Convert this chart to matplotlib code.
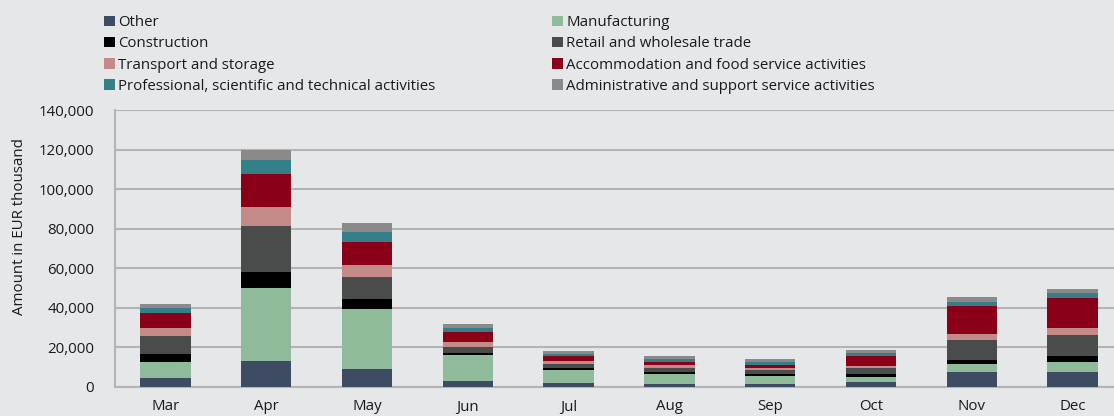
import matplotlib
matplotlib.use("Agg")
import matplotlib.pyplot as plt
from matplotlib.patches import Patch
from matplotlib.ticker import FuncFormatter
import numpy as np

plt.rcParams["font.family"] = ["Open Sans", "DejaVu Sans"]

# ── Data (EUR thousand) ────────────────────────────────────────────────────────
months = ["Mar", "Apr", "May", "Jun", "Jul", "Aug", "Sep", "Oct", "Nov", "Dec"]

other         = [4700, 13100, 9000, 3200, 2000, 1700, 1500, 2400, 7400, 7800]
manufacturing = [7800, 36900, 30300, 13200, 6800, 4900, 4100, 2900, 4200, 4900]
construction  = [4200, 8300, 5100, 1000, 1000, 1000, 1000, 1400, 2000, 2900]
retail        = [9100, 23200, 11300, 3000, 2000, 2200, 2000, 2900, 10000, 10700]
transport     = [3800, 9500, 5900, 2400, 1200, 1400, 1000, 1000, 3400, 3400]
accommodation = [7600, 16500, 11800, 4900, 2500, 1500, 1500, 5100, 14000, 15100]
professional  = [2800, 7100, 5100, 1900, 1400, 1500, 1400, 1700, 2000, 2500]
administrative = [1900, 5400, 4300, 2000, 1400, 1400, 1400, 1400, 2500, 2400]

# stacking order, bottom to top
series = [
    ("Other", other, "#3d4b63"),
    ("Manufacturing", manufacturing, "#8fbb9b"),
    ("Construction", construction, "#000000"),
    ("Retail and wholesale trade", retail, "#4a4c4b"),
    ("Transport and storage", transport, "#c48a88"),
    ("Accommodation and food service activities", accommodation, "#8b0019"),
    ("Professional, scientific and technical activities", professional, "#357f88"),
    ("Administrative and support service activities", administrative, "#8a8a8a"),
]

BG = "#e6e7e9"
GRID = "#b4b4b4"
TXT = "#1a1a1a"
FS = 10.8

fig = plt.figure(figsize=(11.14, 4.16), dpi=100, facecolor=BG)
ax = fig.add_axes([115 / 1114, 29 / 416, 1000 / 1114, 277 / 416], facecolor=BG)

x = np.arange(len(months))
bottom = np.zeros(len(months))
for name, vals, col in series:
    vals = np.array(vals, dtype=float)
    ax.bar(x, vals, width=0.5, bottom=bottom, color=col, edgecolor="none", zorder=3)
    bottom += vals

ax.set_xlim(-0.5, 9.42)
ax.set_ylim(0, 140000)
ax.set_yticks(np.arange(0, 140001, 20000))
ax.yaxis.set_major_formatter(FuncFormatter(lambda v, _: f"{int(v):,}"))
ax.grid(axis="y", color=GRID, linewidth=1.5, zorder=0)
ax.set_xticks(x)
ax.set_xticklabels(months)
ax.tick_params(axis="x", length=0, pad=9, labelsize=FS, labelcolor=TXT)
ax.tick_params(axis="y", length=0, pad=15, labelsize=FS, labelcolor=TXT)

for side in ("top", "right"):
    ax.spines[side].set_visible(False)
for side in ("left", "bottom"):
    ax.spines[side].set_color(GRID)
    ax.spines[side].set_linewidth(1.5)

ax.set_ylabel("Amount in EUR thousand", fontsize=FS, color=TXT)
ax.yaxis.set_label_coords(-88 / 1000, 0.578)

# two legend columns, filled row by row
handles = [Patch(facecolor=col, edgecolor="none", label=name) for name, _, col in series]
left_col = handles[0::2]
right_col = handles[1::2]
legend_kw = dict(loc="upper left", frameon=False, fontsize=FS, labelcolor=TXT,
                 handlelength=0.7, handleheight=0.7, handletextpad=0.25,
                 labelspacing=0.42, borderpad=0, borderaxespad=0)
fig.legend(handles=left_col, bbox_to_anchor=(104 / 1114, 1 - 15 / 416), **legend_kw)
fig.legend(handles=right_col, bbox_to_anchor=(552 / 1114, 1 - 15 / 416), **legend_kw)

fig.savefig("out.png", dpi=100, facecolor=BG)
